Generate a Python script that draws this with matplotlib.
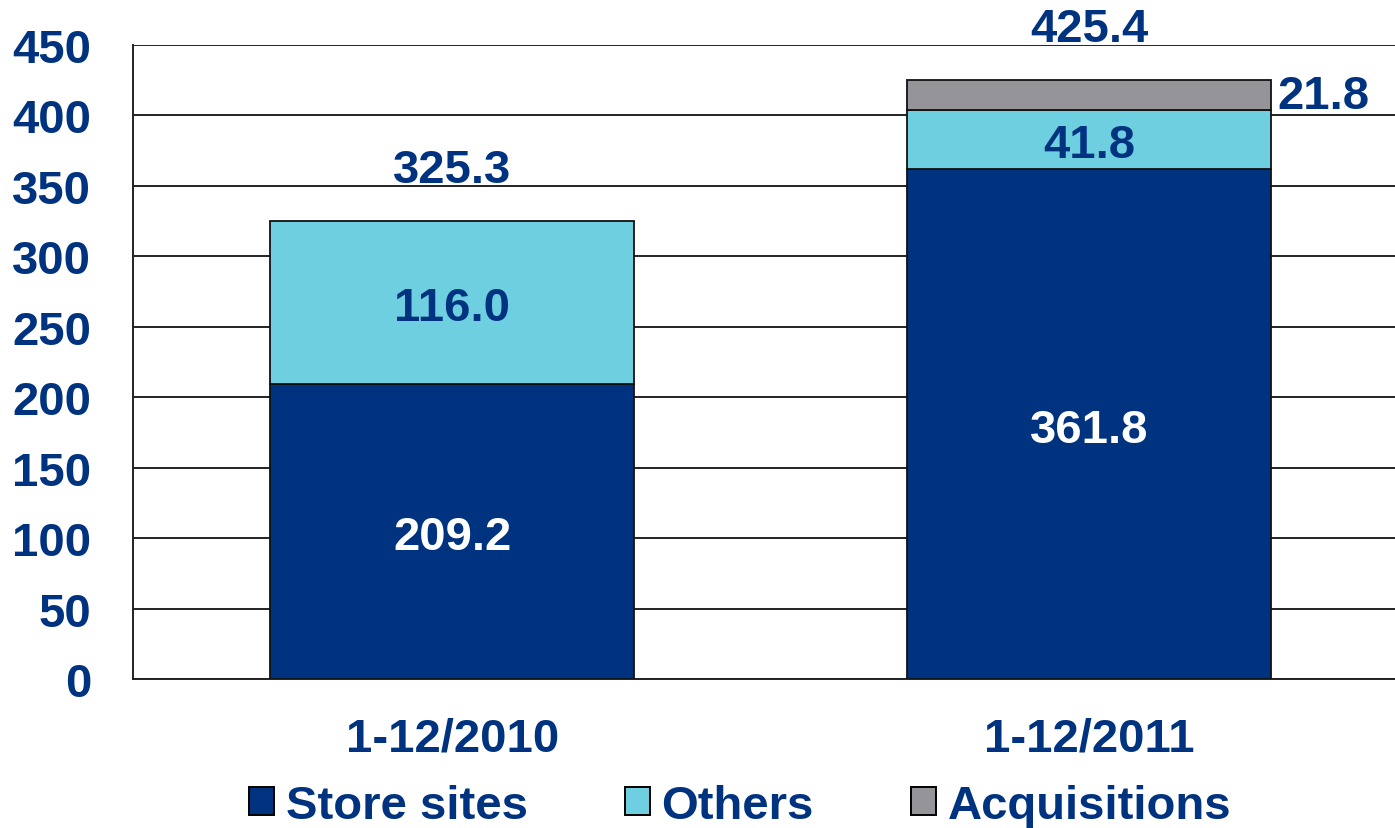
import numpy as np
import matplotlib
matplotlib.use('Agg')
import matplotlib.pyplot as plt
from matplotlib.patches import Patch

plt.rcParams['font.family'] = ['Liberation Sans', 'DejaVu Sans']
plt.rcParams['font.weight'] = 'bold'

# ─── Data ─────────────────────────────────────────────────────────────────────
periods = ['1-12/2010', '1-12/2011']
store_sites = [209.2, 361.8]
others = [116.0, 41.8]
acquisitions = [0.0, 21.8]
totals = [325.3, 425.4]

NAVY = '#00337F'
CYAN = '#6ECFE1'
GREY = '#959599'
TXT = '#00337F'
FS = 34
DY = -4  # nudge so labels sit visually centred

fig = plt.figure(figsize=(13.95, 8.29), dpi=100)
ax = fig.add_axes([133/1395, 1 - 680/829, (1395 - 133)/1395, (680 - 46)/829])

x = np.arange(len(periods))
w = 0.571
ax.bar(x, store_sites, w, color=NAVY, edgecolor='#111111', linewidth=1.3, zorder=3)
ax.bar(x, others, w, bottom=store_sites, color=CYAN, edgecolor='#111111', linewidth=1.3, zorder=3)
bottom3 = np.array(store_sites) + np.array(others)
acq_x = [xi for xi, a in zip(x, acquisitions) if a > 0]
acq_v = [a for a in acquisitions if a > 0]
acq_b = [bt for bt, a in zip(bottom3, acquisitions) if a > 0]
ax.bar(acq_x, acq_v, w, bottom=acq_b, color=GREY, edgecolor='#111111', linewidth=1.3, zorder=3)

# segment labels
for xi, s, o in zip(x, store_sites, others):
    ax.text(xi, s / 2 + DY, f'{s:.1f}', ha='center', va='center', color='white', fontsize=FS, fontweight='bold', zorder=4)
    ax.text(xi, s + o / 2 + DY, f'{o:.1f}', ha='center', va='center', color=TXT, fontsize=FS, fontweight='bold', zorder=4)
for xi, bt, a in zip(acq_x, acq_b, acq_v):
    ax.text(xi + w / 2 + 0.01, bt + a / 2 - 1, f'{a:.1f}', ha='left', va='center', color=TXT, fontsize=FS, fontweight='bold', zorder=4)
for xi, t in zip(x, totals):
    ax.text(xi, t + 36, f'{t:.1f}', ha='center', va='center', color=TXT, fontsize=FS, fontweight='bold',
            zorder=4, clip_on=False)

ax.set_xlim(-0.501, 1.480)
ax.set_ylim(0, 450)
ax.set_yticks(np.arange(0, 451, 50))
ax.set_xticks(x)
ax.set_xticklabels(periods)
ax.yaxis.grid(True, color='#222222', linewidth=1.4, zorder=0)
ax.set_axisbelow(True)
for s in ['top', 'right']:
    ax.spines[s].set_visible(False)
ax.spines['left'].set_linewidth(1.4)
ax.spines['bottom'].set_linewidth(1.4)
ax.spines['left'].set_color('#222222')
ax.spines['bottom'].set_color('#222222')
ax.tick_params(axis='both', length=0, labelsize=FS, labelcolor=TXT)
ax.tick_params(axis='y', pad=30)
ax.tick_params(axis='x', pad=27)
for lbl in ax.get_xticklabels() + ax.get_yticklabels():
    lbl.set_fontweight('bold')

handles = [Patch(facecolor=NAVY, edgecolor='black', linewidth=1.4, label='Store sites'),
           Patch(facecolor=CYAN, edgecolor='black', linewidth=1.4, label='Others'),
           Patch(facecolor=GREY, edgecolor='black', linewidth=1.4, label='Acquisitions')]
leg = fig.legend(handles=handles, loc='center', bbox_to_anchor=(740/1395, 1 - 807/829), ncol=3,
                 frameon=False, fontsize=FS, handlelength=0.53, handleheight=0.53,
                 handletextpad=0.25, columnspacing=2.05, borderaxespad=0, borderpad=0)
for t in leg.get_texts():
    t.set_color(TXT)
    t.set_fontweight('bold')

fig.savefig('out.png', dpi=100)
